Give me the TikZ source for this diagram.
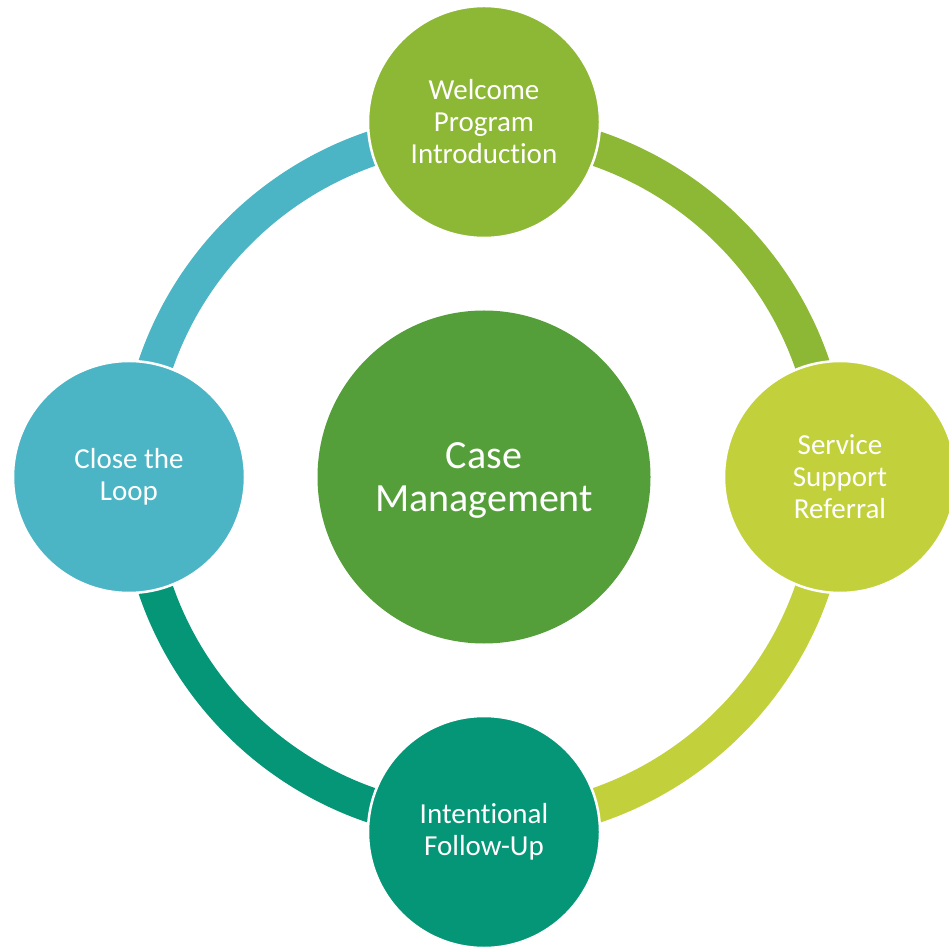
\documentclass[tikz,border=0pt]{standalone}
\usepackage{fontspec}
\setmainfont{Carlito}[Ligatures=NoCommon]
\definecolor{cTop}{HTML}{8DB835}
\definecolor{cRight}{HTML}{C2D13B}
\definecolor{cBottom}{HTML}{049676}
\definecolor{cLeft}{HTML}{4BB5C5}
\definecolor{cHub}{HTML}{559F3B}
\newcommand{\lowerline}[1]{\raisebox{-3pt}[\height][\depth]{#1}}
\newcommand{\brk}{\kern0pt{}}
\begin{document}
\begin{tikzpicture}[x=1pt,y=1pt,
  bubble/.style={circle, draw=white, line width=2.5pt, text=white, align=center,
    inner sep=0pt, minimum size=232pt, font=\fontsize{29}{32}\selectfont},
  hub/.style={circle, text=white, align=center, inner sep=0pt,
    minimum size=333pt, font=\fontsize{40}{43}\selectfont},
  ringarc/.style={line width=35pt}]
\useasboundingbox (0,0) rectangle (949,948);
\coordinate (ctr) at (484,471);
% ring arcs
\draw[ringarc, cTop] ([shift={(90:347)}]ctr) arc[start angle=90, end angle=0, radius=347];
\draw[ringarc, cRight] ([shift={(0:347)}]ctr) arc[start angle=0, end angle=-90, radius=347];
\draw[ringarc, cBottom] ([shift={(-90:347)}]ctr) arc[start angle=-90, end angle=-180, radius=347];
\draw[ringarc, cLeft] ([shift={(180:347)}]ctr) arc[start angle=180, end angle=90, radius=347];
% nodes
\node[hub, fill=cHub] (hubnode) at (ctr) {\lowerline{Case}\\\lowerline{Management}};
\node[bubble, fill=cTop] (welcome) at (484,826) {Welcome\\Program\\Introduct\brk ion};
\node[bubble, fill=cRight] (service) at (840,471) {Service\\Support\\Referral};
\node[bubble, fill=cBottom] (follow) at (484,116) {Intent\brk ional\\Follow-Up};
\node[bubble, fill=cLeft] (loop) at (129,471) {Close the\\Loop};
\end{tikzpicture}
\end{document}
